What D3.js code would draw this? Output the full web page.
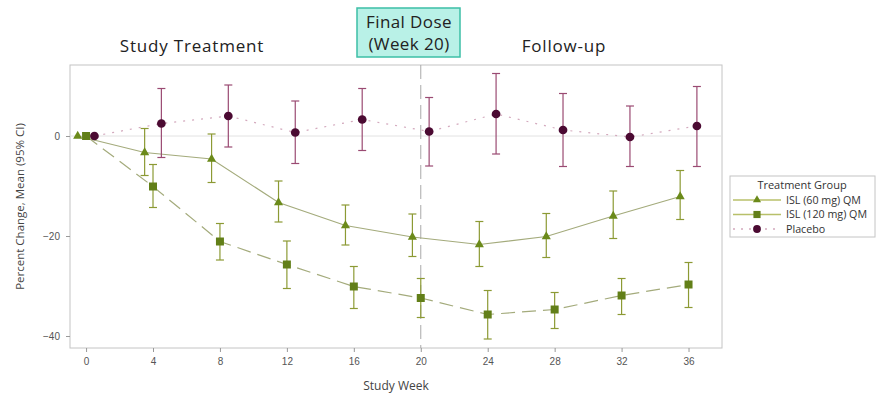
<!DOCTYPE html>
<html>
<head>
<meta charset="utf-8">
<style>
  body { margin: 0; background: #fff; font-family: "Open Sans", "DejaVu Sans", sans-serif; }
  .tick text { font-size: 10px; fill: #555; }
  .tick line { stroke: #999; }
  .domain { display: none; }
</style>
</head>
<body>
<svg id="chart" width="876" height="395"></svg>
<script src="https://d3js.org/d3.v7.min.js"></script>
<script>
// study weeks
var weeks = [0, 4, 8, 12, 16, 20, 24, 28, 32, 36];

// ISL (60 mg) QM
var isl60Mean = [0, -3.3, -4.6, -13.3, -17.9, -20.2, -21.7, -20.1, -16.0, -12.1];
var isl60Lo   = [0, -7.9, -9.3, -17.2, -21.8, -24.1, -26.1, -24.3, -20.5, -16.7];
var isl60Hi   = [0,  1.5,  0.4,  -9.0, -13.8, -15.6, -17.1, -15.5, -11.0,  -6.9];

// ISL (120 mg) QM
var isl120Mean = [0, -10.1, -21.1, -25.7, -30.1, -32.4, -35.7, -34.7, -31.9, -29.7];
var isl120Lo   = [0, -14.3, -24.8, -30.5, -34.5, -36.3, -40.6, -38.5, -35.7, -34.3];
var isl120Hi   = [0,  -5.7, -17.5, -21.0, -26.1, -28.5, -30.9, -31.3, -28.5, -25.3];

// Placebo
var placeboMean = [0, 2.5, 4.0, 0.7, 3.3, 0.9, 4.4, 1.2, -0.2, 2.0];
var placeboLo   = [0, -4.3, -2.2, -5.5, -2.9, -6.0, -3.6, -6.1, -6.1, -6.1];
var placeboHi   = [0, 9.5, 10.2, 7.0, 9.5, 7.7, 12.5, 8.5, 6.0, 9.9];

var xTicks = [0, 4, 8, 12, 16, 20, 24, 28, 32, 36];
var yTicks = [-40, -20, 0];
var finalDoseWeek = 20;

var svg = d3.select("#chart");
var plotL = 70, plotR = 722, plotT = 65, plotB = 348;

var x = d3.scaleLinear().domain([-0.96, 38]).range([plotL, plotR]);
var y = d3.scaleLinear().domain([-42.4, 14.2]).range([plotB, plotT]);

// frame
svg.append("rect")
    .attr("x", plotL).attr("y", plotT)
    .attr("width", plotR - plotL).attr("height", plotB - plotT)
    .attr("fill", "none").attr("stroke", "#c4c4c4");

// zero reference line
svg.append("line")
    .attr("x1", plotL).attr("x2", plotR)
    .attr("y1", y(0)).attr("y2", y(0))
    .attr("stroke", "#e2e2e2");

// final dose line
svg.append("line")
    .attr("x1", x(finalDoseWeek)).attr("x2", x(finalDoseWeek))
    .attr("y1", plotT).attr("y2", plotB)
    .attr("stroke", "#aaa").attr("stroke-dasharray", "14,6");

// axes
svg.append("g")
    .attr("transform", "translate(0," + plotB + ")")
    .call(d3.axisBottom(x).tickValues(xTicks).tickSize(4).tickPadding(6));
svg.append("g")
    .attr("transform", "translate(" + plotL + ",0)")
    .call(d3.axisLeft(y).tickValues(yTicks).tickSize(4).tickPadding(6));

svg.append("text")
    .attr("x", (plotL + plotR) / 2).attr("y", 390)
    .attr("text-anchor", "middle").attr("font-size", 12).attr("fill", "#444")
    .text("Study Week");
svg.append("text")
    .attr("transform", "translate(24," + ((plotT + plotB) / 2) + ") rotate(-90)")
    .attr("text-anchor", "middle").attr("font-size", 11.5).attr("fill", "#444")
    .text("Percent Change, Mean (95% CI)");

var series = [
    { name: "ISL (60 mg)  QM", mean: isl60Mean, lo: isl60Lo, hi: isl60Hi, dx: -0.5,
      line: "#a4ab7c", dash: null, bar: "#8c9a34", marker: "#6b8a1a", shape: d3.symbolTriangle, size: 36 },
    { name: "ISL (120 mg) QM", mean: isl120Mean, lo: isl120Lo, hi: isl120Hi, dx: 0,
      line: "#a4ab7c", dash: "14,7", bar: "#8c9a34", marker: "#627f18", shape: d3.symbolSquare, size: 64 },
    { name: "Placebo", mean: placeboMean, lo: placeboLo, hi: placeboHi, dx: 0.5,
      line: "#d3a9bd", dash: "2,7", bar: "#9a4a72", marker: "#4b0a32", shape: d3.symbolCircle, size: 60 }
];

series.forEach(function(s) {
    var pts = weeks.map(function(w, i) {
        return { w: w + s.dx, m: s.mean[i], lo: s.lo[i], hi: s.hi[i] };
    });
    var g = svg.append("g");
    g.append("path")
        .datum(pts)
        .attr("fill", "none")
        .attr("stroke", s.line)
        .attr("stroke-width", 1.2)
        .attr("stroke-dasharray", s.dash)
        .attr("d", d3.line()
            .x(function(d) { return x(d.w); })
            .y(function(d) { return y(d.m); }));

    var bars = g.selectAll(".err").data(pts.filter(function(d) { return d.hi !== d.lo; }))
        .enter().append("g").attr("stroke", s.bar).attr("stroke-width", 1.2);
    bars.append("line")
        .attr("x1", function(d) { return x(d.w); }).attr("x2", function(d) { return x(d.w); })
        .attr("y1", function(d) { return y(d.lo); }).attr("y2", function(d) { return y(d.hi); });
    bars.append("line")
        .attr("x1", function(d) { return x(d.w) - 4; }).attr("x2", function(d) { return x(d.w) + 4; })
        .attr("y1", function(d) { return y(d.lo); }).attr("y2", function(d) { return y(d.lo); });
    bars.append("line")
        .attr("x1", function(d) { return x(d.w) - 4; }).attr("x2", function(d) { return x(d.w) + 4; })
        .attr("y1", function(d) { return y(d.hi); }).attr("y2", function(d) { return y(d.hi); });

    g.selectAll(".pt").data(pts).enter().append("path")
        .attr("transform", function(d) { return "translate(" + x(d.w) + "," + y(d.m) + ")"; })
        .attr("d", d3.symbol().type(s.shape).size(s.size))
        .attr("fill", s.marker);
});

// period labels
svg.append("text")
    .attr("x", 192).attr("y", 52)
    .attr("text-anchor", "middle").attr("font-size", 17).attr("letter-spacing", 0.8).attr("fill", "#222")
    .text("Study Treatment");
svg.append("text")
    .attr("x", 564).attr("y", 52)
    .attr("text-anchor", "middle").attr("font-size", 17).attr("letter-spacing", 0.8).attr("fill", "#222")
    .text("Follow-up");

// final dose box
svg.append("rect")
    .attr("x", 357).attr("y", 8).attr("width", 103).attr("height", 49)
    .attr("fill", "#b9f1e7").attr("stroke", "#3dbfa6").attr("stroke-width", 1.5);
svg.append("text")
    .attr("x", 409).attr("y", 28)
    .attr("text-anchor", "middle").attr("font-size", 17).attr("letter-spacing", 0.4).attr("fill", "#222")
    .text("Final Dose");
svg.append("text")
    .attr("x", 409).attr("y", 50)
    .attr("text-anchor", "middle").attr("font-size", 17).attr("letter-spacing", 0.4).attr("fill", "#222")
    .text("(Week 20)");

// legend
var lg = svg.append("g");
lg.append("rect")
    .attr("x", 730).attr("y", 176).attr("width", 145).attr("height", 61)
    .attr("fill", "#fff").attr("stroke", "#c4c4c4");
lg.append("text")
    .attr("x", 802).attr("y", 189)
    .attr("text-anchor", "middle").attr("font-size", 11).attr("fill", "#333")
    .text("Treatment Group");
series.forEach(function(s, i) {
    var ly = 200 + i * 14.5;
    lg.append("line")
        .attr("x1", 733).attr("x2", 781).attr("y1", ly).attr("y2", ly)
        .attr("stroke", i < 2 ? "#b8c06a" : s.line).attr("stroke-width", 1.4)
        .attr("stroke-dasharray", i === 2 ? "2,6" : null);
    lg.append("path")
        .attr("transform", "translate(757," + ly + ")")
        .attr("d", d3.symbol().type(s.shape).size(s.size * 0.8))
        .attr("fill", s.marker);
    lg.append("text")
        .attr("x", 786).attr("y", ly + 3.5)
        .attr("font-size", 10.7).attr("fill", "#333")
        .text(s.name);
});
</script>
</body>
</html>
